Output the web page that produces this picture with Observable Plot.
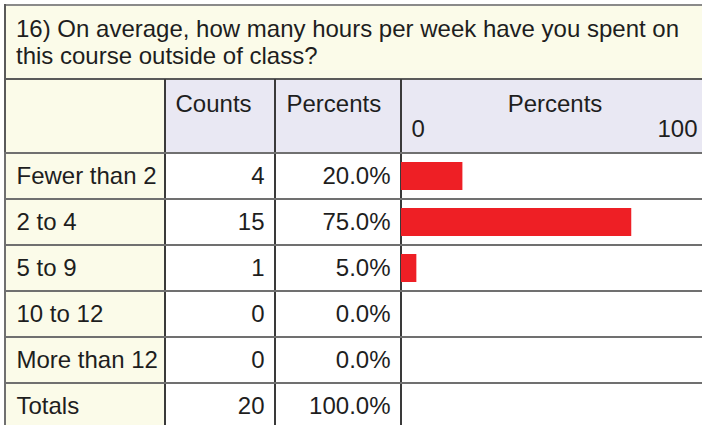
<!DOCTYPE html>
<html>
<head>
<meta charset="utf-8">
<script src="https://cdn.jsdelivr.net/npm/d3@7"></script>
<script src="https://cdn.jsdelivr.net/npm/@observablehq/plot@0.6"></script>
<style>
  html, body { margin: 0; padding: 0; background: #fff; }
  #wrap { position: relative; width: 702px; height: 425px; overflow: hidden;
          font-family: "Liberation Sans", Arial, Helvetica, sans-serif; color: #1e1e1e; }
  .bg { position: absolute; }
  #title { position: absolute; left: 16px; top: 15px; font-size: 24px; line-height: 27px; white-space: nowrap; }
  #chart { position: absolute; left: 0; top: 79px; }
</style>
</head>
<body>
<div id="wrap"></div>
<script>
// ---- data ----
const questionLines = ["16) On average, how many hours per week have you spent on", "this course outside of class?"];
const categories = ["Fewer than 2", "2 to 4", "5 to 9", "10 to 12", "More than 12"];
const counts = [4, 15, 1, 0, 0];
const percents = [20.0, 75.0, 5.0, 0.0, 0.0];
const totalLabel = "Totals";
const totalCount = 20;
const totalPercent = 100.0;
const columnHeaders = ["Counts", "Percents", "Percents"];
const tickLabels = [0, 100];

// ---- layout ----
const W = 702, H = 425;
const top0 = 5, titleH = 74, headH = 74, rowH = 46;
const colX = [5, 165, 275, 401];
const svgTop = top0 + titleH;
const yellow = "#fbfbe9", lavender = "#e9e8f3", red = "#ee1f25";

const wrap = document.getElementById("wrap");
function box(l, t, w, h, css) {
  const d = document.createElement("div");
  d.className = "bg";
  d.style.left = l + "px"; d.style.top = t + "px";
  d.style.width = w + "px"; d.style.height = h + "px";
  Object.assign(d.style, css || {});
  wrap.appendChild(d);
}
// backgrounds
box(colX[0], top0, 800, titleH, {background: yellow});
box(colX[0], svgTop, colX[1] - colX[0], 500, {background: yellow});
box(colX[1], svgTop, 800, headH, {background: lavender});
// outer top border and title bottom line
box(colX[0], top0 - 1, 800, 2, {background: "#8a8a8a"});
box(colX[0], svgTop - 1, 800, 2, {background: "#5a5a5a"});
box(colX[0] - 1, top0 - 1, 2, 500, {background: "#5a5a5a"});
// column lines
for (const x of colX.slice(1)) box(x - 1, svgTop, 2, 500, {background: "#3a3a3a"});

// title
const t = document.createElement("div");
t.id = "title";
t.innerHTML = questionLines.join("<br>");
wrap.appendChild(t);

// ---- table rows ----
const rows = categories.map((c, i) => ({label: c, count: counts[i], pct: percents[i]}));
const allRows = [...rows, {label: totalLabel, count: totalCount, pct: totalPercent}];
const fmtPct = d => d.toFixed(1) + "%";

const fs = 24;
const textStyle = {fontSize: fs, fill: "#1e1e1e"};
const svgH = H - svgTop;

const plot = Plot.plot({
  width: W,
  height: svgH,
  marginLeft: 0, marginRight: 0, marginTop: 0, marginBottom: 0,
  style: {background: "transparent", fontFamily: "Liberation Sans, Arial, sans-serif", overflow: "visible"},
  x: {domain: [0, 100], range: [colX[3], colX[3] + 307], axis: null},
  y: {domain: allRows.map(d => d.label), range: [headH, headH + rowH * allRows.length], padding: 0, axis: null},
  marks: [
    // bars
    Plot.barX(rows, {x: "pct", y: "label", fill: red, insetTop: 9, insetBottom: 9}),
    // row grid lines from the band scale
    Plot.cell(allRows, {y: "label", fill: "none", stroke: "#707070", strokeWidth: 2, insetLeft: 5, insetRight: -20}),
    // row labels
    Plot.text(allRows, {y: "label", text: "label", frameAnchor: "left", textAnchor: "start", dx: 16, ...textStyle}),
    // counts
    Plot.text(allRows, {y: "label", text: d => String(d.count), frameAnchor: "left", textAnchor: "end", dx: colX[2] - 11, ...textStyle}),
    // percents
    Plot.text(allRows, {y: "label", text: d => fmtPct(d.pct), frameAnchor: "left", textAnchor: "end", dx: colX[3] - 11, ...textStyle}),
    // headers
    Plot.text([columnHeaders[0]], {text: d => d, frameAnchor: "top-left", textAnchor: "start", lineAnchor: "bottom", dx: colX[1] + 10, dy: 32, ...textStyle}),
    Plot.text([columnHeaders[1]], {text: d => d, frameAnchor: "top-left", textAnchor: "start", lineAnchor: "bottom", dx: colX[2] + 11, dy: 32, ...textStyle}),
    Plot.text([columnHeaders[2]], {x: () => 50, text: d => d, frameAnchor: "top", textAnchor: "middle", lineAnchor: "bottom", dy: 32, ...textStyle}),
    // axis tick labels
    Plot.text([tickLabels[0]], {x: d => d, text: d => String(d), frameAnchor: "top", textAnchor: "start", lineAnchor: "bottom", dx: 10, dy: 57, ...textStyle}),
    Plot.text([tickLabels[1]], {x: d => d, text: d => String(d), frameAnchor: "top", textAnchor: "end", lineAnchor: "bottom", dx: -11, dy: 57, ...textStyle})
  ]
});
plot.id = "chart";
wrap.appendChild(plot);
</script>
</body>
</html>
